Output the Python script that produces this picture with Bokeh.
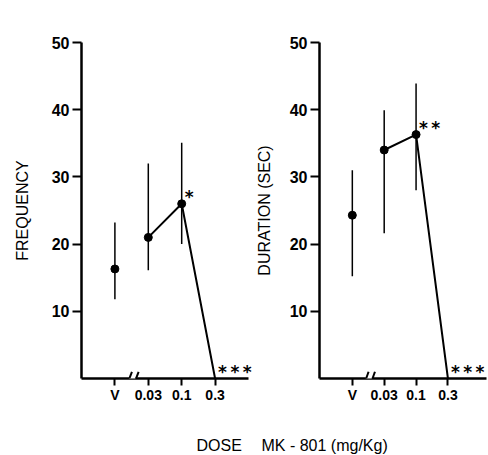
from bokeh.plotting import figure
from bokeh.layouts import row, column
from bokeh.models import Range1d, FixedTicker, Label, Arrow, ColumnDataSource
from bokeh.embed import file_html
from bokeh.resources import INLINE
from bokeh.core.properties import value

# ---- data ----
doses = ["V", "0.03", "0.1", "0.3"]
dose_pos = [1, 2, 3, 4]

freq_mean = [16.3, 21.0, 26.0, 0.0]
freq_low = [11.8, 16.1, 20.0, 0.0]
freq_high = [23.2, 32.0, 35.1, 0.0]
freq_stars = ["", "", "*", "*\u2009*\u2009*"]

dur_mean = [24.3, 34.0, 36.3, 0.0]
dur_low = [15.2, 21.6, 28.0, 0.0]
dur_high = [31.0, 39.9, 43.9, 0.0]
dur_stars = ["", "", "*\u2009*", "*\u2009*\u2009*"]

y_ticks = [10, 20, 30, 40, 50]

FONT = "Liberation Sans"


def make_panel(title, ylabel, mean, low, high, stars, width, bl, br, x0, x1, axis_end, title_x, label_standoff):
    p = figure(width=width, height=418, x_range=Range1d(x0, x1), y_range=Range1d(0, 50),
               min_border_left=bl, min_border_right=br, min_border_top=42, min_border_bottom=40,
               toolbar_location=None, output_backend="svg")
    p.outline_line_color = None
    p.xgrid.visible = False
    p.ygrid.visible = False
    p.background_fill_color = "white"
    p.border_fill_color = "white"

    for ax in (p.xaxis[0], p.yaxis[0]):
        ax.axis_line_width = 2.5
        ax.axis_line_color = "black"
        ax.major_tick_line_width = 2
        ax.major_tick_line_color = "black"
        ax.major_tick_in = 0
        ax.minor_tick_line_color = None
        ax.major_label_text_font = FONT
        ax.major_label_text_font_style = "bold"
        ax.major_label_text_color = "black"

    p.yaxis.ticker = FixedTicker(ticks=y_ticks)
    p.yaxis.major_tick_out = 9
    p.yaxis.major_label_standoff = 3
    p.yaxis.major_label_text_font_size = "16px"
    p.yaxis.axis_label = ylabel
    p.yaxis.axis_label_text_font = FONT
    p.yaxis.axis_label_text_font_style = "normal"
    p.yaxis.axis_label_text_font_size = "16px"
    p.yaxis.axis_label_text_color = "black"
    p.yaxis.axis_label_standoff = label_standoff

    p.xaxis.ticker = FixedTicker(ticks=dose_pos)
    p.xaxis.bounds = (x0, axis_end)
    p.xaxis.major_label_overrides = {pos: d for pos, d in zip(dose_pos, doses)}
    p.xaxis.major_tick_out = 7
    p.xaxis.major_label_standoff = 1
    p.xaxis.major_label_text_font_size = "14px"

    # error bars
    p.segment(x0=dose_pos, y0=low, x1=dose_pos, y1=high, line_color="black", line_width=1.5)
    # connecting line (drug doses only)
    p.line(dose_pos[1:], mean[1:], line_color="black", line_width=2)
    # means
    p.scatter(dose_pos[:3], mean[:3], size=8, color="black")

    # significance stars
    src = ColumnDataSource(dict(x=dose_pos, y=mean, t=stars))
    p.text(x="x", y="y", text="t", source=src, x_offset=3, y_offset=-7,
           text_font=value("DejaVu Sans"), text_font_style="bold", text_font_size="17px",
           text_align="left", text_baseline="alphabetic", text_color="black")

    # axis break between V and first dose
    bx = (dose_pos[0] + dose_pos[1]) / 2.0
    p.add_layout(Arrow(end=None, start=None, x_start=bx - 0.08, y_start=0, x_end=bx + 0.12, y_end=0,
                       line_color="white", line_width=5))
    for dx in (-0.12, 0.08):
        p.add_layout(Arrow(end=None, start=None, x_start=bx + dx, y_start=-0.7, x_end=bx + dx + 0.13,
                           y_end=1.0, line_color="black", line_width=2))

    p.add_layout(Label(x=title_x, y=53.5, text=title, text_align="center", text_baseline="middle",
                       text_font=FONT, text_font_size="17px", text_color="black"))
    return p


p1 = make_panel("FREQUENCY", "FREQUENCY", freq_mean, freq_low, freq_high, freq_stars,
                252, 81, 0, 0.0, 5.12, 5.0, 2.22, 18)
p2 = make_panel("DURATION", "DURATION (SEC)", dur_mean, dur_low, dur_high, dur_stars,
                236, 61, 2, -0.03, 5.21, 5.21, 2.41, 14)

pb = figure(width=488, height=37, x_range=Range1d(0, 488), y_range=Range1d(0, 37),
            min_border=0, toolbar_location=None, output_backend="svg")
pb.axis.visible = False
pb.grid.visible = False
pb.outline_line_color = None
pb.add_layout(Label(x=196, y=10, text="DOSE", text_align="left", text_baseline="middle",
                    text_font=FONT, text_font_size="16px", text_color="black"))
pb.add_layout(Label(x=261, y=10, text="MK - 801 (mg/Kg)", text_align="left", text_baseline="middle",
                    text_font=FONT, text_font_size="16px", text_color="black"))

layout = column(row(p1, p2), pb)
open("out.html", "w").write(file_html(layout, INLINE))
